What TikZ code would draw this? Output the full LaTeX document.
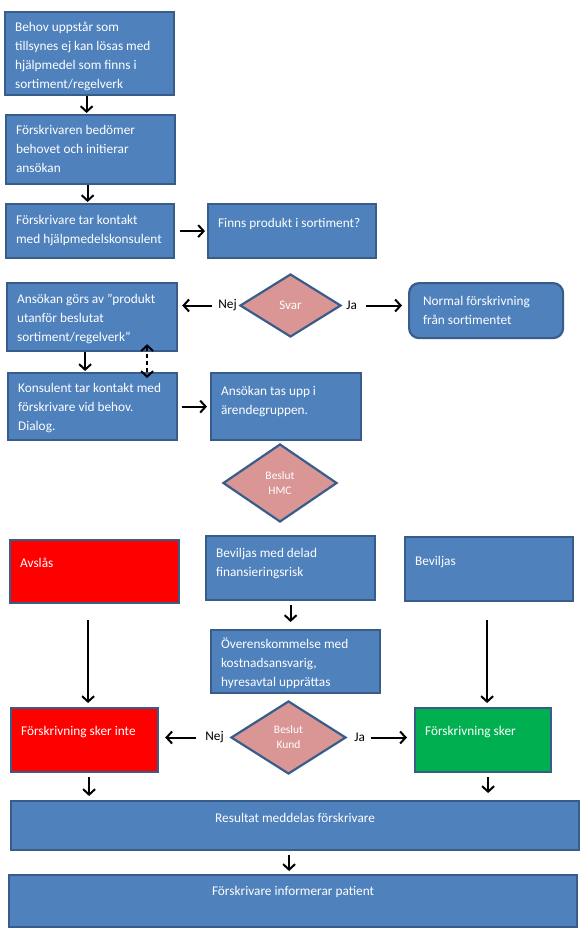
\documentclass[tikz,border=0pt]{standalone}
\usepackage{fontspec}
\setmainfont{Carlito}
\usetikzlibrary{positioning,shapes.geometric,arrows.meta}
\definecolor{boxblue}{HTML}{4F81BD}
\definecolor{edgeblue}{HTML}{385D8A}
\definecolor{nored}{HTML}{FF0000}
\definecolor{yesgreen}{HTML}{00B050}
\definecolor{askpink}{HTML}{D99694}
\newcommand{\boxtxt}[4]{\parbox[c][#2pt][t]{#1pt}{\raggedright\rule{0pt}{#3pt}#4}}
\tikzset{
blk/.style={draw=edgeblue, fill=boxblue, line width=2.2pt, anchor=north west, inner xsep=10pt, inner ysep=0pt, text=white, font=\fontsize{13.3}{19}\selectfont},
ask/.style={diamond, draw=edgeblue, fill=askpink, line width=2.2pt, inner sep=0pt, text=white, align=center},
lbl/.style={inner sep=1pt, font=\fontsize{13.3}{16}\selectfont},
arr/.style={line width=2pt, -{Straight Barb[length=5.5pt,width=12pt]}},
dbl/.style={line width=2pt, {Straight Barb[length=5.5pt,width=12pt]}-{Straight Barb[length=5.5pt,width=12pt]}, dash pattern=on 4pt off 3pt},
}
\begin{document}
\begin{tikzpicture}[x=1pt,y=-1pt]
\useasboundingbox (0,0) rectangle (582,932);
\node[blk] (b1) at (4,11){\boxtxt{149}{83}{19}{Behov uppstår som\\tillsynes ej kan lösas med\\hjälpmedel som finns i\\sortiment/regelverk}};
\node[blk] (b2) at (5,114){\boxtxt{149}{69}{19}{Förskrivaren bedömer\\behovet och initierar\\ansökan}};
\node[blk] (b3) at (5,203){\boxtxt{148}{54}{20}{Förskrivare tar kontakt\\med hjälpmedelskonsulent}};
\node[blk] (b4) at (207,203){\boxtxt{148}{54}{23}{Finns produkt i sortiment?}};
\node[ask, minimum width=101pt, minimum height=63pt, font=\fontsize{13}{15}\selectfont] (svar) at (290.5,305.5){Svar};
\node[blk] (b5) at (6,282){\boxtxt{150}{68}{20}{Ansökan görs av ”produkt\\utanför beslutat\\sortiment/regelverk”}};
\node[blk, rounded corners=10pt, inner xsep=14pt] (b6) at (408,282){\boxtxt{126}{55}{22}{Normal förskrivning\\från sortimentet}};
\node[blk] (b7) at (7,372){\boxtxt{149}{67}{19}{Konsulent tar kontakt med\\förskrivare vid behov.\\Dialog.}};
\node[blk] (b8) at (210,372){\boxtxt{130}{67}{22}{Ansökan tas upp i\\ärendegruppen.}};
\node[ask, minimum width=114pt, minimum height=78pt, font=\fontsize{11.5}{15}\selectfont] (hmc) at (280,483){Beslut\\HMC};
\node[blk, fill=nored] (avs) at (9,539){\boxtxt{149}{63}{27}{Avslås}};
\node[blk] (bdel) at (205,535){\boxtxt{149}{64}{21}{Beviljas med delad\\finansieringsrisk}};
\node[blk] (bev) at (404,536){\boxtxt{148}{64}{28}{Beviljas}};
\node[blk] (over) at (210,629){\boxtxt{149}{63}{18}{Överenskommelse med\\kostnadsansvarig,\\hyresavtal upprättas}};
\node[ask, minimum width=115pt, minimum height=73pt, font=\fontsize{11.5}{15}\selectfont] (kund) at (288.5,737.5){Beslut\\Kund};
\node[blk, fill=nored] (ejsker) at (10,707){\boxtxt{127}{64}{27}{Förskrivning sker inte}};
\node[blk, fill=yesgreen] (sker) at (414,707){\boxtxt{116}{64}{27}{Förskrivning sker}};
\node[blk] (res) at (10,800){\boxtxt{548}{49}{21}{\centering Resultat meddelas förskrivare}};
\node[blk] (inf) at (8,874){\boxtxt{548}{52}{20}{\centering Förskrivare informerar patient}};
\node[lbl, left=1pt of svar] (nej1){Nej};
\node[lbl, right=3pt of svar] (ja1){Ja};
\node[lbl, left=5pt of kund] (nej2){Nej};
\node[lbl, right=6pt of kund] (ja2){Ja};
\draw[arr, shorten >=1pt] ([xshift=-3pt]b1.south) -- ([xshift=-3pt]b1.south |- b2.north);
\draw[arr, shorten >=1pt] ([xshift=-3pt]b2.south) -- ([xshift=-3pt]b2.south |- b3.north);
\draw[arr, shorten <=5pt, shorten >=2pt] (b3.east) -- (b4.west);
\draw[arr, shorten <=5pt, shorten >=4pt] (nej1) -- (nej1 -| b5.east);
\draw[arr, shorten <=8pt, shorten >=6pt] (ja1) -- (ja1 -| b6.west);
\draw[arr, shorten >=1pt] ([xshift=-7pt]b5.south) -- ([xshift=-7pt]b5.south |- b7.north);
\draw[dbl] ([xshift=55pt,yshift=8pt]b5.south) -- ([xshift=54.5pt,yshift=-6pt]b7.north);
\draw[arr, shorten <=4pt, shorten >=3pt] (b7.east) -- (b7.east -| b8.west);
\draw[arr, shorten <=4pt, shorten >=7pt] (bdel.south) -- (bdel.south |- over.north);
\draw[arr, shorten <=16pt, shorten >=4pt] ([xshift=-6.5pt]avs.south) -- ([xshift=-6.5pt]avs.south |- ejsker.north);
\draw[arr, shorten <=18pt, shorten >=4pt] ([xshift=-2pt]bev.south) -- ([xshift=-2pt]bev.south |- sker.north);
\draw[arr, shorten <=8pt, shorten >=6pt] (nej2) -- (nej2 -| ejsker.east);
\draw[arr, shorten <=5pt, shorten >=7pt] (ja2) -- (ja2 -| sker.west);
\draw[arr, shorten <=4pt, shorten >=4pt] ([xshift=4.5pt]ejsker.south) -- ([xshift=4.5pt]ejsker.south |- res.north);
\draw[arr, shorten <=4pt, shorten >=7pt] ([xshift=5pt]sker.south) -- ([xshift=5pt]sker.south |- res.north);
\draw[arr, shorten <=4pt, shorten >=3pt] ([xshift=-6pt]res.south) -- ([xshift=-6pt]res.south |- inf.north);
\end{tikzpicture}
\end{document}
